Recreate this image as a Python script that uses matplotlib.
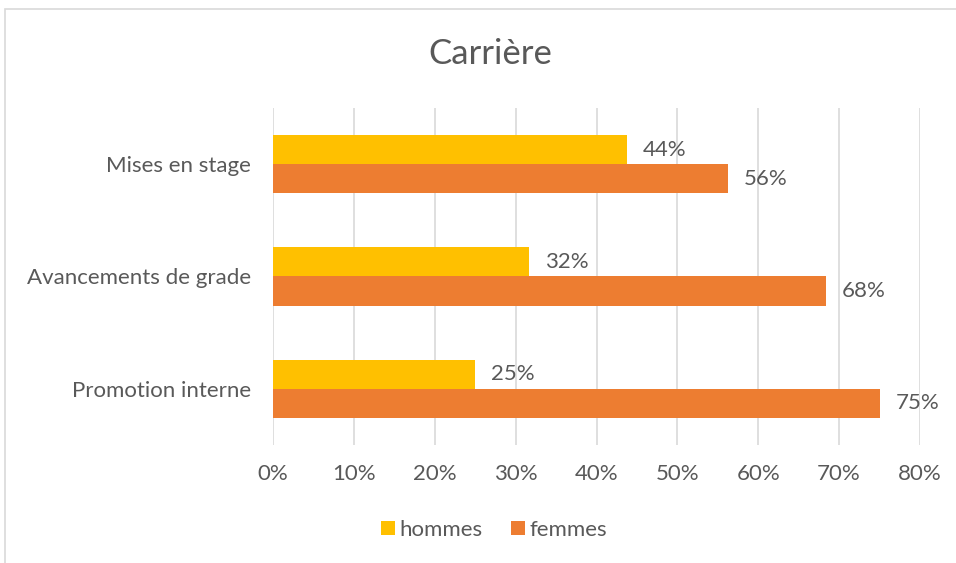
import matplotlib
matplotlib.use("Agg")
import matplotlib.pyplot as plt
from matplotlib.patches import Rectangle

categories = ["Mises en stage", "Avancements de grade", "Promotion interne"]
hommes = [43.8, 31.6, 25.0]
femmes = [56.2, 68.4, 75.0]
series_names = ["hommes", "femmes"]
xticks = [0, 10, 20, 30, 40, 50, 60, 70, 80]

plt.rcParams['font.family'] = ['Lato', 'DejaVu Sans']
txt = '#595959'
grid = '#d9d9d9'
c_h = '#ffc000'
c_f = '#ed7d31'
fs = 16

W, H = 956, 563
fig = plt.figure(figsize=(W/100, H/100), dpi=100)
fig.patches.append(Rectangle((5/W, -0.01), 1.0, 1 - 9/H + 0.01, transform=fig.transFigure,
                             fill=False, edgecolor=grid, linewidth=1.2))

ax = fig.add_axes([273/W, 1 - 445/H, (920-273)/W, (445-108)/H])
ypos = list(range(len(categories)))
bh = 0.26
ax.barh([y - bh/2 for y in ypos], hommes, height=bh, color=c_h, label=series_names[0], zorder=3)
ax.barh([y + bh/2 for y in ypos], femmes, height=bh, color=c_f, label=series_names[1], zorder=3)
for y, v in zip(ypos, hommes):
    ax.annotate(f"{v:.0f}%", (v, y - bh/2), xytext=(16, 0), textcoords='offset pixels',
                va='center', ha='left', color=txt, fontsize=fs)
for y, v in zip(ypos, femmes):
    ax.annotate(f"{v:.0f}%", (v, y + bh/2), xytext=(16, 0), textcoords='offset pixels',
                va='center', ha='left', color=txt, fontsize=fs)

ax.set_ylim(2.5, -0.5)
ax.set_xlim(0, 80)
ax.set_yticks(ypos)
ax.set_yticklabels(categories, fontsize=fs, color=txt)
ax.set_xticks(xticks)
ax.set_xticklabels([f"{t}%" for t in xticks], fontsize=fs, color=txt)
ax.tick_params(length=0, pad=14, axis='x')
ax.tick_params(length=0, pad=16, axis='y')
ax.xaxis.grid(True, color=grid, linewidth=1.2, zorder=0)
for s in ax.spines.values():
    s.set_visible(False)

fig.text(490/W, 1 - 54/H, "Carrière", ha='center', va='center', fontsize=25, color=txt)

leg = fig.legend(loc='center', bbox_to_anchor=(494/W, 1 - 530/H), ncol=2, frameon=False,
                 fontsize=fs, labelcolor=txt, handlelength=0.62, handleheight=0.62,
                 handletextpad=0.2, columnspacing=1.3)

fig.savefig("out.png", dpi=100)
